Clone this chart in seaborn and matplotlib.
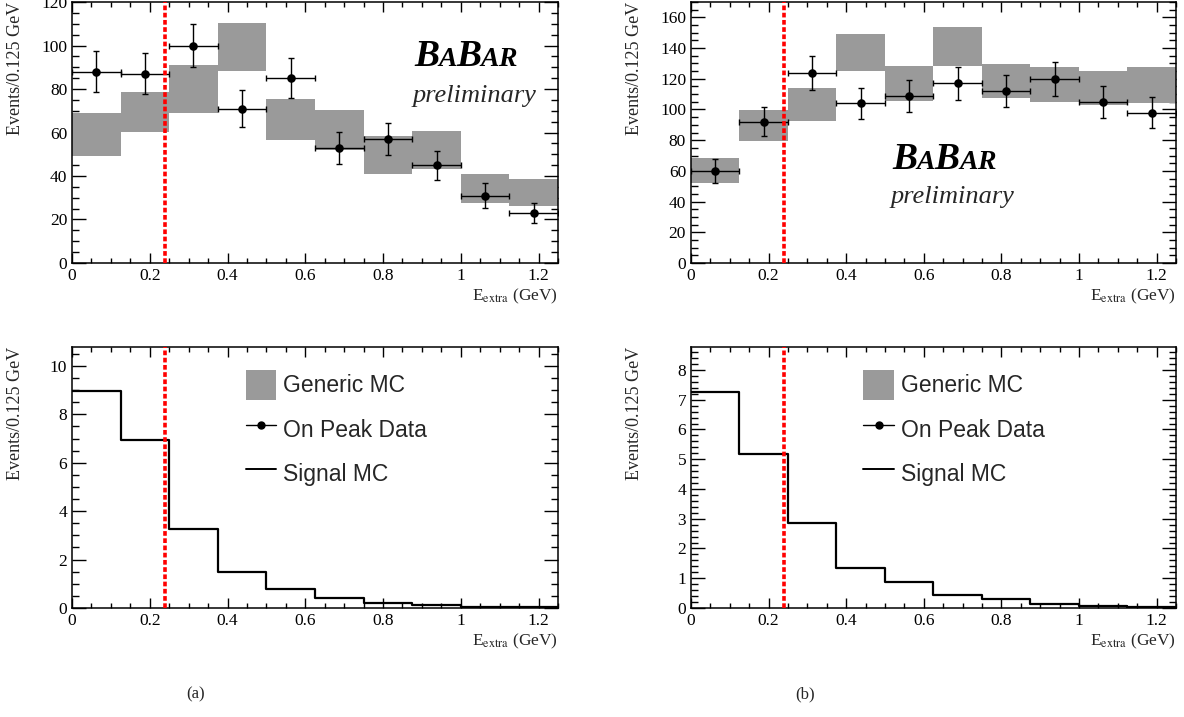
import numpy as np
import pandas as pd
import matplotlib
matplotlib.use("Agg")
import matplotlib.pyplot as plt
import seaborn as sns
from matplotlib.ticker import MultipleLocator
from matplotlib.patches import Patch
from matplotlib.lines import Line2D
from matplotlib.offsetbox import TextArea, HPacker, AnnotationBbox

# ---------------- data ----------------
bin_edges = [0, 0.125, 0.25, 0.375, 0.5, 0.625, 0.75, 0.875, 1.0, 1.125, 1.25]
cut_value = 0.24

# panel (a)
mc_a_low = [49, 60.4, 69.1, 88.4, 56.6, 52, 41.1, 43.4, 27.4, 26]
mc_a_high = [68.8, 78.6, 91, 110.2, 75.4, 70.3, 58.4, 60.7, 41, 38.7]
data_a = [88, 87, 100, 71, 85, 53, 57, 45, 31, 23]
signal_a = [8.95, 6.93, 3.28, 1.47, 0.78, 0.43, 0.20, 0.12, 0.05, 0.03]

# panel (b)
mc_b_low = [52.3, 79.6, 92.5, 125, 105.5, 128.2, 107.5, 104.9, 103, 104.2]
mc_b_high = [68.1, 99.5, 114.2, 149.2, 128, 154, 129.7, 127.4, 125.2, 127.4]
data_b = [60, 92, 124, 104, 109, 117, 112, 120, 105, 98]
signal_b = [7.27, 5.17, 2.84, 1.34, 0.86, 0.45, 0.30, 0.13, 0.08, 0.04]

legend_labels = ["Generic MC", "On Peak Data", "Signal MC"]
y_title = "Events/0.125 GeV"
x_title = r"E$_{\mathrm{extra}}$ (GeV)"
panel_labels = ["(a)", "(b)"]

# ---------------- style ----------------
sns.set_theme(style="ticks")
plt.rcParams['font.family'] = ['Liberation Serif', 'DejaVu Serif']
plt.rcParams['mathtext.fontset'] = 'stix'
plt.rcParams['axes.linewidth'] = 1.1

GRAY = '#9a9a9a'

fig = plt.figure(figsize=(11.84, 7.17), dpi=100)

edges = np.array(bin_edges)
centers = (edges[:-1] + edges[1:]) / 2
width = edges[1] - edges[0]


def style_axes(ax, ymax, ymajor, yminor, ylab_x):
    ax.set_xlim(0, 1.25)
    ax.set_ylim(0, ymax)
    ax.xaxis.set_major_locator(MultipleLocator(0.2))
    ax.xaxis.set_minor_locator(MultipleLocator(0.05))
    ax.yaxis.set_major_locator(MultipleLocator(ymajor))
    ax.yaxis.set_minor_locator(MultipleLocator(yminor))
    ax.tick_params(axis='both', which='both', direction='in', top=True, right=True,
                   colors='black', labelsize=12.5, width=1.0)
    ax.tick_params(axis='y', which='major', length=10, pad=3.5)
    ax.tick_params(axis='y', which='minor', length=5)
    ax.tick_params(axis='x', which='major', length=7, pad=3.5)
    ax.tick_params(axis='x', which='minor', length=3.5)
    ax.xaxis.set_major_formatter(matplotlib.ticker.FuncFormatter(
        lambda v, p: ("%g" % round(v, 3))))
    ax.set_ylabel(y_title, fontsize=13, loc='top')
    ax.yaxis.set_label_coords(ylab_x, 1.0)
    ax.set_xlabel(x_title, fontsize=12.5, loc='right')
    ax.xaxis.set_label_coords(1.0, -0.092)
    for s in ax.spines.values():
        s.set_color('black')
    ax.set_facecolor('white')


def babar(ax, x, y, x2, y2):
    parts = [("B", 27), ("A", 20), ("B", 27), ("A", 20), ("R", 20)]
    children = [TextArea(t, textprops=dict(fontsize=s, fontweight='bold', fontstyle='italic',
                                           family='Liberation Serif', color='black'))
                for t, s in parts]
    box = HPacker(children=children, align='baseline', pad=0, sep=-0.5)
    ab = AnnotationBbox(box, (x, y), xycoords='data', frameon=False, box_alignment=(0.5, 0.0),
                        pad=0)
    ax.add_artist(ab)
    ax.text(x2, y2, "preliminary", fontsize=19, fontstyle='italic', ha='center', va='baseline',
            family='Liberation Serif')


def top_panel(rect, low, high, data, ymax, ymajor, yminor, ylab_x, logo):
    ax = fig.add_axes(rect)
    low = np.array(low); high = np.array(high)
    ax.bar(centers, high - low, bottom=low, width=width, color=GRAY, edgecolor='none',
           align='center', zorder=1)
    d = np.array(data, dtype=float)
    ax.errorbar(centers, d, yerr=np.sqrt(d), xerr=width / 2, fmt='none', ecolor='black',
                elinewidth=1.0, capsize=2.2, capthick=1.0, zorder=3)
    sns.scatterplot(x=centers, y=d, ax=ax, color='black', s=38, edgecolor='black',
                    linewidth=0, zorder=4, legend=False)
    ax.axvline(cut_value, color='#ff0000', lw=2.6, ls=(0, (1.3, 0.7)), zorder=5)
    style_axes(ax, ymax, ymajor, yminor, ylab_x)
    babar(ax, *logo)
    return ax


def bottom_panel(rect, signal, ymax, ymajor, yminor, ylab_x, leg_x):
    ax = fig.add_axes(rect)
    df = pd.DataFrame({"x": centers, "w": signal})
    sns.histplot(data=df, x="x", weights="w", bins=list(bin_edges), element='step', fill=False,
                 color='black', linewidth=1.6, ax=ax, zorder=2)
    ax.axvline(cut_value, color='#ff0000', lw=2.6, ls=(0, (1.3, 0.7)), zorder=5)
    style_axes(ax, ymax, ymajor, yminor, ylab_x)
    handles = [Patch(facecolor=GRAY, edgecolor='none'),
               Line2D([], [], color='black', marker='o', markersize=5, lw=1.0),
               Line2D([], [], color='black', lw=1.4)]
    ax.legend(handles, legend_labels, loc='upper left', bbox_to_anchor=(leg_x, 0.912),
              frameon=False, borderpad=0, borderaxespad=0, handlelength=1.35,
              handleheight=1.64, labelspacing=0.61, handletextpad=0.3,
              prop={'family': 'Liberation Sans', 'size': 16.5})
    return ax


H = 0.364
top_panel([0.0608, 0.6332, 0.4105, H], mc_a_low, mc_a_high, data_a, 120, 20, 5, -0.098,
          (1.012, 87, 1.035, 74))
top_panel([0.5836, 0.6332, 0.4096, H], mc_b_low, mc_b_high, data_b, 170, 20, 5, -0.099,
          (0.652, 56, 0.674, 39))
bottom_panel([0.0608, 0.152, 0.4105, H], signal_a, 10.78, 2, 0.5, -0.098, 0.357)
bottom_panel([0.5836, 0.152, 0.4096, H], signal_b, 8.77, 1, 0.2, -0.099, 0.355)

fig.text(0.1655, 0.031, panel_labels[0], fontsize=12, ha='center', va='center')
fig.text(0.68, 0.031, panel_labels[1], fontsize=12, ha='center', va='center')

fig.savefig("out.png", dpi=100, facecolor='white')
